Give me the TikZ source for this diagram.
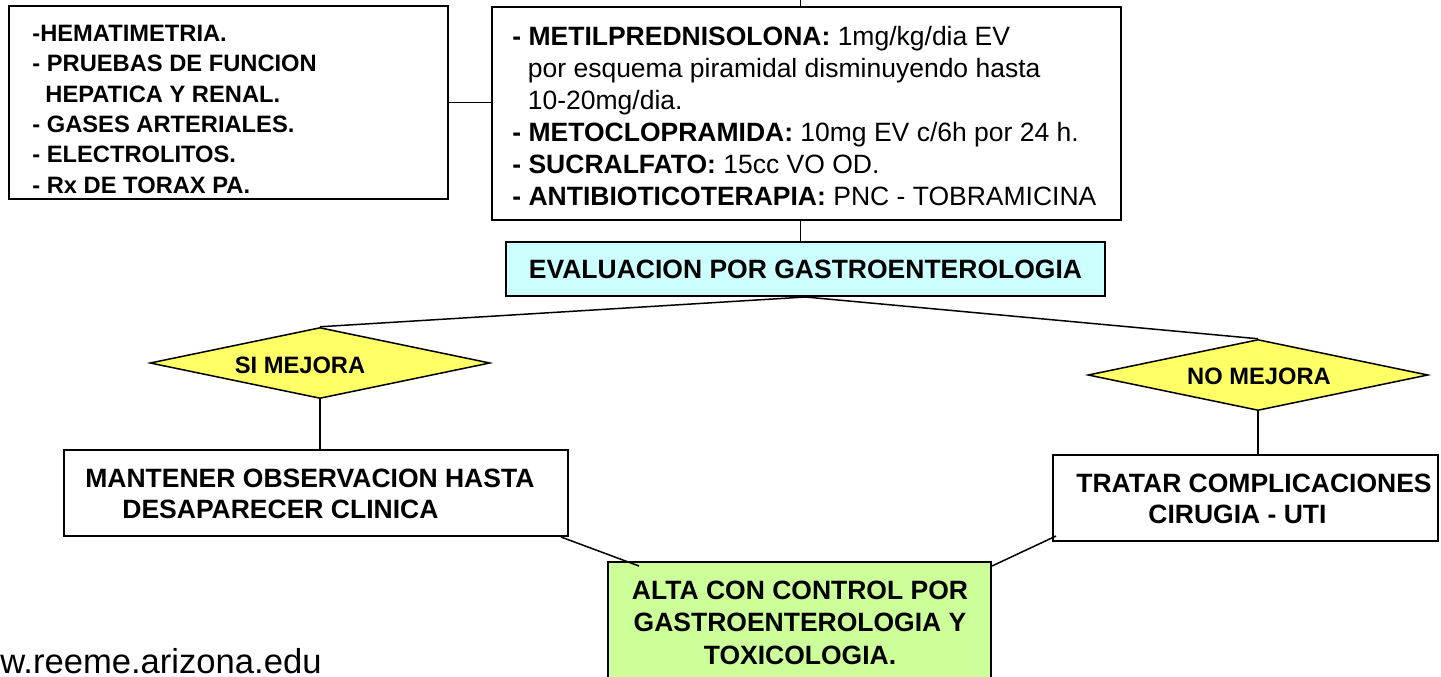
\documentclass[tikz,border=0pt]{standalone}
\usepackage{fontspec}
\setmainfont{Liberation Sans}
\usetikzlibrary{shapes.geometric}
\definecolor{cyanfill}{HTML}{CCFFFF}
\definecolor{greenfill}{HTML}{CCFF99}
\definecolor{yellowfill}{HTML}{FFFF66}
\begin{document}
\begin{tikzpicture}[x=0.5pt,y=-0.5pt,
  box/.style={draw, line width=1pt, inner sep=0pt, fill=white},
  conn/.style={line width=0.75pt},
  dia/.style={diamond, draw, fill=yellowfill, inner sep=0pt, line width=0.75pt},
  txs/.style={font=\bfseries\fontsize{11.85pt}{15.2pt}\selectfont, inner sep=0pt},
  txl/.style={font=\bfseries\fontsize{13.25pt}{15.5pt}\selectfont, inner sep=0pt},
  txr/.style={font=\fontsize{13.25pt}{16pt}\selectfont, inner sep=0pt}]
\useasboundingbox (0,0) rectangle (1441,676);
\clip (0,0) rectangle (1441,676);
% boxes
\node[box, minimum width=219.5pt, minimum height=96.5pt] (L) at (228.5,102.5) {};
\node[box, minimum width=314.5pt, minimum height=106.5pt] (C) at (806.5,113.5) {};
\node[box, fill=cyanfill, minimum width=299.5pt, minimum height=27pt, txl] (E) at (805.5,269) {EVALUACION POR GASTROENTEROLOGIA};
\node[dia, minimum width=170pt, minimum height=35.5pt] (SI) at (320,363) {};
\node[dia, minimum width=170pt, minimum height=35.5pt] (NO) at (1258,375) {};
\node[box, minimum width=252pt, minimum height=43pt] (M) at (316,493) {};
\node[box, minimum width=192.5pt, minimum height=43pt] (T) at (1245.5,498) {};
\node[box, fill=greenfill, minimum width=191.5pt, minimum height=69pt] (A) at (799.5,631) {};
% texts
\node[txs, anchor=north west, align=left] (Lt) at (32,24.5) {-HEMATIMETRIA.\\- PRUEBAS DE FUNCION\\\hspace*{6.5pt}HEPATICA Y RENAL.\\- GASES ARTERIALES.\\- ELECTROLITOS.\\- Rx DE TORAX PA.};
\node[txr, anchor=north west, align=left] (Ct) at (512,25.5) {{\bfseries - METILPREDNISOLONA:} 1mg/kg/dia EV\\\hspace*{7.75pt}por esquema piramidal disminuyendo hasta\\\hspace*{7.75pt}10-20mg/dia.\\{\bfseries - METOCLOPRAMIDA:} 10mg EV c/6h por 24 h.\\{\bfseries - SUCRALFATO:} 15cc VO OD.\\{\bfseries - ANTIBIOTICOTERAPIA:} PNC - TOBRAMICINA};
\node[txs] (SIt) at (300,365) {SI MEJORA};
\node[txs] (NOt) at (1259,376) {NO MEJORA};
\node[txl, anchor=north west, align=left] (Mt) at (85,468.5) {MANTENER OBSERVACION HASTA\\\hspace*{18.5pt}DESAPARECER CLINICA};
\node[txl, anchor=north west, align=left] (Tt) at (1076,473.5) {TRATAR COMPLICACIONES\\\hspace*{36pt}CIRUGIA - UTI};
\node[txl, anchor=north, align=center, font=\bfseries\fontsize{13.25pt}{16.25pt}\selectfont] (At) at (800,580.5) {ALTA CON CONTROL POR\\GASTROENTEROLOGIA Y\\TOXICOLOGIA.};
\node[font=\fontsize{17.3pt}{20pt}\selectfont, anchor=base west, inner sep=0pt] (W) at (-50,673) {www.reeme.arizona.edu};
% connectors
\coordinate (top) at (800.5,0);
\draw[conn] (top) -- (top |- C.north);
\draw[conn] (top |- C.south) -- (top |- E.north);
\draw[conn] (L.east) -- (L.east -| C.west);
\draw[conn] (E.south) -- (SI.north);
\draw[conn] (E.south) -- (NO.north);
\draw[conn] (SI.south) -- (SI.south |- M.north);
\draw[conn] (NO.south) -- (NO.south |- T.north);
\draw[conn] ([xshift=-4pt]M.south east) -- ([xshift=16pt,yshift=-2.5pt]A.north west);
\draw[conn] ([yshift=-2.5pt]A.north east) -- ([xshift=2pt,yshift=3pt]T.south west);
\end{tikzpicture}
\end{document}
